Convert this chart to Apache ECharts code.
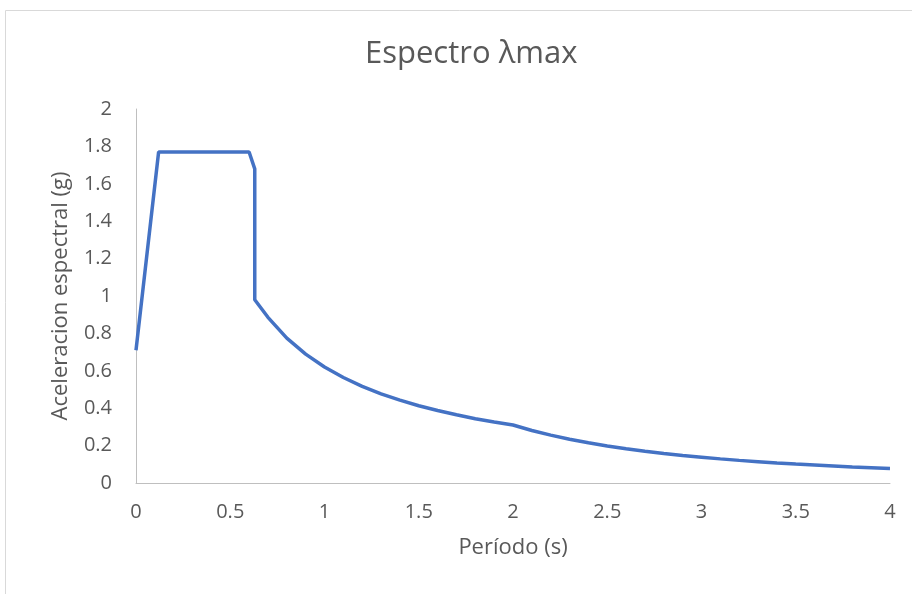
<!DOCTYPE html>
<html>
<head>
<meta charset="utf-8">
<script src="https://cdn.jsdelivr.net/npm/echarts@6/dist/echarts.min.js"></script>
<style>
  html, body { margin: 0; padding: 0; background: #fff; }
  #chart { width: 912px; height: 594px; }
</style>
</head>
<body>
<div id="chart"></div>
<script>
// periodos (s)
const periodos = [0, 0.12, 0.6, 0.63, 0.63, 0.7, 0.8, 0.9, 1.0, 1.1, 1.2, 1.3, 1.4, 1.5, 1.6, 1.7, 1.8, 1.9, 2.0,
  2.1, 2.2, 2.3, 2.4, 2.5, 2.6, 2.7, 2.8, 2.9, 3.0, 3.1, 3.2, 3.3, 3.4, 3.5, 3.6, 3.7, 3.8, 3.9, 4.0];
// aceleracion espectral (g)
const aceleracion = [0.71, 1.77, 1.77, 1.68, 0.98, 0.886, 0.775, 0.689, 0.62, 0.564, 0.517, 0.477, 0.443, 0.413, 0.388, 0.365, 0.344, 0.326, 0.31,
  0.281, 0.256, 0.234, 0.215, 0.198, 0.183, 0.170, 0.158, 0.147, 0.138, 0.129, 0.121, 0.114, 0.107, 0.101, 0.096, 0.091, 0.086, 0.082, 0.078];

const chart = echarts.init(document.getElementById("chart"));
const font = "'Open Sans', sans-serif";

chart.setOption({
  animation: false,
  title: {
    text: "Espectro λmax",
    left: 360,
    top: 34,
    textStyle: { fontFamily: font, fontSize: 31, fontWeight: "normal", color: "#595959" },
  },
  graphic: [
    {
      type: "rect",
      shape: { x: 5.5, y: 10.5, width: 920, height: 600 },
      style: { fill: "none", stroke: "#d9d9d9", lineWidth: 1 },
      silent: true,
    },
  ],
  grid: { left: 136, right: 22, top: 109, bottom: 111 },
  xAxis: {
    type: "value",
    min: 0,
    max: 4,
    interval: 0.5,
    name: "Período (s)",
    nameLocation: "middle",
    nameGap: 54,
    nameTextStyle: { fontFamily: font, fontSize: 22, color: "#595959" },
    axisLine: { lineStyle: { color: "#bfbfbf", width: 1 } },
    axisTick: { show: false },
    splitLine: { show: false },
    axisLabel: { fontFamily: font, fontSize: 20, color: "#595959", margin: 19 },
  },
  yAxis: {
    type: "value",
    min: 0,
    max: 2,
    interval: 0.2,
    name: "Aceleracion espectral (g)",
    nameLocation: "middle",
    nameGap: 64,
    nameTextStyle: { fontFamily: font, fontSize: 22, color: "#595959" },
    axisLine: { show: true, lineStyle: { color: "#bfbfbf", width: 1 } },
    axisTick: { show: false },
    splitLine: { show: false },
    axisLabel: {
      fontFamily: font, fontSize: 20, color: "#595959", margin: 24,
      formatter: (v) => String(Math.round(v * 10) / 10),
    },
  },
  series: [
    {
      type: "line",
      data: periodos.map((t, i) => [t, aceleracion[i]]),
      showSymbol: false,
      lineStyle: { color: "#4472C4", width: 3.5 },
      itemStyle: { color: "#4472C4" },
    },
  ],
});
</script>
</body>
</html>
